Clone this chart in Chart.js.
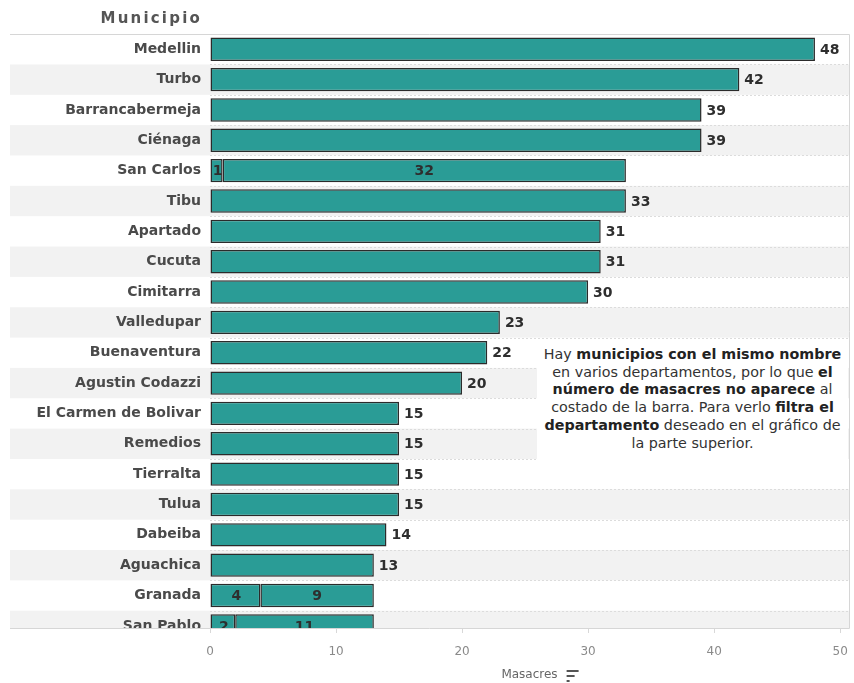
<!DOCTYPE html>
<html>
<head>
<meta charset="utf-8">
<script src="https://cdn.jsdelivr.net/npm/chart.js@4"></script>
<style>
  body { margin: 0; background: #fff; }
  #wrap { position: relative; width: 854px; height: 683px; }
  #note {
    position: absolute; left: 537px; top: 344px; width: 311px; height: 118px;
    background: #fff; text-align: center; color: #333; white-space: nowrap;
    font: 14.3px 'DejaVu Sans', sans-serif; line-height: 17.7px; padding-top: 2px;
  }
  #note b { color: #222; }
</style>
</head>
<body>
<div id="wrap">
  <canvas id="chart" width="854" height="683"></canvas>
  <div id="note">Hay <b>municipios con el mismo nombre</b><br>en varios departamentos, por lo que <b>el</b><br><b>número de masacres no aparece</b> al<br>costado de la barra. Para verlo <b>filtra el</b><br><b>departamento</b> deseado en el gráfico de<br>la parte superior.</div>
</div>
<script>
// municipios, top to bottom
const municipios = ['Medellin', 'Turbo', 'Barrancabermeja', 'Ciénaga', 'San Carlos', 'Tibu',
  'Apartado', 'Cucuta', 'Cimitarra', 'Valledupar', 'Buenaventura', 'Agustin Codazzi',
  'El Carmen de Bolivar', 'Remedios', 'Tierralta', 'Tulua', 'Dabeiba', 'Aguachica',
  'Granada', 'San Pablo'];

// first segment (or whole bar) and second segment for split rows
const masacresA = [48, 42, 39, 39, 1, 33, 31, 31, 30, 23, 22, 20, 15, 15, 15, 15, 14, 13, 4, 2];
const masacresB = [null, null, null, null, 32, null, null, null, null, null, null, null, null, null, null, null, null, null, 9, 11];

const xTicks = [0, 10, 20, 30, 40, 50];

const TEAL = '#2a9c96';
const EDGE = '#2b2b2b';
const FONT = "'DejaVu Sans', sans-serif";

const pointsA = masacresA.map((v, i) => ({ x: v, y: i }));
const pointsB = [];
masacresB.forEach((v, i) => { if (v != null) pointsB.push({ x: [masacresA[i], masacresA[i] + v], y: i }); });

const bands = {
  id: 'bands',
  beforeDraw(chart) {
    const { ctx, chartArea: a, scales: { y } } = chart;
    ctx.save();
    ctx.fillStyle = '#f2f2f2';
    municipios.forEach((_, i) => {
      if (i % 2 === 0) return;
      const t = Math.max(a.top, y.getPixelForValue(i - 0.5));
      const b = Math.min(a.bottom, y.getPixelForValue(i + 0.5));
      ctx.fillRect(10, t, a.right - 10, b - t);
    });
    // faint dotted row separators in the plot
    ctx.strokeStyle = '#dcdcdc';
    ctx.lineWidth = 1;
    ctx.setLineDash([2, 2]);
    ctx.beginPath();
    municipios.forEach((_, i) => {
      const py = Math.round(y.getPixelForValue(i + 0.5)) + 0.5;
      if (py >= a.bottom) return;
      ctx.moveTo(a.left, py); ctx.lineTo(a.right, py);
    });
    ctx.stroke();
    ctx.restore();
  },
  afterDraw(chart) {
    const { ctx, chartArea: a } = chart;
    ctx.save();
    // clip the cut-off last row label
    ctx.fillStyle = '#fff';
    ctx.fillRect(0, a.bottom + 0.5, a.left - 1, 14);
    // frame lines
    ctx.strokeStyle = '#d6d6d6';
    ctx.lineWidth = 1;
    ctx.beginPath();
    ctx.moveTo(10, a.top - 0.5); ctx.lineTo(a.right + 0.5, a.top - 0.5);
    ctx.moveTo(a.right + 0.5, a.top - 0.5); ctx.lineTo(a.right + 0.5, a.bottom + 0.5);
    ctx.moveTo(10, a.bottom + 0.5); ctx.lineTo(a.right + 0.5, a.bottom + 0.5);
    ctx.stroke();
    // header
    ctx.fillStyle = '#555';
    ctx.font = 'bold 15px ' + FONT;
    ctx.letterSpacing = '2.2px';
    ctx.textAlign = 'right';
    ctx.textBaseline = 'middle';
    ctx.fillText('Municipio', a.left - 8, 19);
    ctx.letterSpacing = '0px';
    // sort icon beside axis title
    ctx.font = '12px ' + FONT;
    const cx = (a.left + a.right) / 2;
    const ix = cx + ctx.measureText('Masacres').width / 2 + 9;
    ctx.fillStyle = '#555';
    ctx.fillRect(ix, 670, 12, 2);
    ctx.fillRect(ix, 675, 8, 2);
    ctx.fillRect(ix, 680, 3, 2);
    ctx.restore();
  }
};

const barLabels = {
  id: 'barLabels',
  afterDatasetsDraw(chart) {
    const { ctx, chartArea: a } = chart;
    const metaA = chart.getDatasetMeta(0).data;
    const metaB = chart.getDatasetMeta(1).data;
    const split = {};
    pointsB.forEach((p, j) => { split[p.y] = metaB[j]; });
    ctx.save();
    ctx.beginPath();
    ctx.rect(a.left, a.top, a.right - a.left + 30, a.bottom - a.top);
    ctx.clip();
    ctx.font = 'bold 14px ' + FONT;
    ctx.fillStyle = '#2e2e2e';
    ctx.textBaseline = 'middle';
    metaA.forEach((el, i) => {
      if (split[i]) {
        ctx.textAlign = 'center';
        ctx.fillText(String(masacresA[i]), (el.base + el.x) / 2 + 1, el.y + 1);
        const eb = split[i];
        ctx.fillText(String(masacresB[i]), (eb.base + eb.x) / 2, eb.y + 1);
      } else {
        ctx.textAlign = 'left';
        ctx.fillText(String(masacresA[i]), el.x + 5, el.y + 1);
      }
    });
    ctx.restore();
  }
};

new Chart(document.getElementById('chart'), {
  type: 'bar',
  data: {
    datasets: [
      { data: pointsA, backgroundColor: TEAL, borderColor: EDGE, borderWidth: 1.5, borderSkipped: false },
      { data: pointsB, backgroundColor: TEAL, borderColor: EDGE, borderWidth: 1.5, borderSkipped: false }
    ]
  },
  options: {
    indexAxis: 'y',
    responsive: false,
    animation: false,
    grouped: false,
    barPercentage: 0.77,
    categoryPercentage: 1,
    layout: { padding: { left: 10, top: 35, right: 5, bottom: 0 } },
    plugins: { legend: { display: false }, tooltip: { enabled: false } },
    scales: {
      x: {
        type: 'linear',
        min: 0,
        max: 50.7,
        afterFit: s => { s.height = 55; s.paddingRight = 0; s.paddingLeft = 0; },
        afterBuildTicks: s => { s.ticks = xTicks.map(v => ({ value: v })); },
        ticks: { color: '#8a8a8a', font: { family: FONT, size: 12 }, padding: 12, includeBounds: false },
        grid: { drawOnChartArea: false, tickLength: 5, color: '#d8d8d8' },
        border: { display: false },
        title: { display: true, text: 'Masacres', color: '#666', font: { family: FONT, size: 12 }, padding: { top: 0, bottom: 1 } }
      },
      y: {
        type: 'linear',
        reverse: true,
        offset: false,
        min: -0.47,
        max: 19.07,
        afterFit: s => { s.width = 200; },
        afterBuildTicks: s => { s.ticks = municipios.map((_, i) => ({ value: i })); },
        ticks: {
          autoSkip: false,
          padding: 9,
          color: '#4a4a4a',
          font: { family: FONT, size: 14, weight: 'bold' },
          callback: v => municipios[v]
        },
        grid: { display: false, drawTicks: false },
        border: { display: false }
      }
    }
  },
  plugins: [bands, barLabels]
});
</script>
</body>
</html>
